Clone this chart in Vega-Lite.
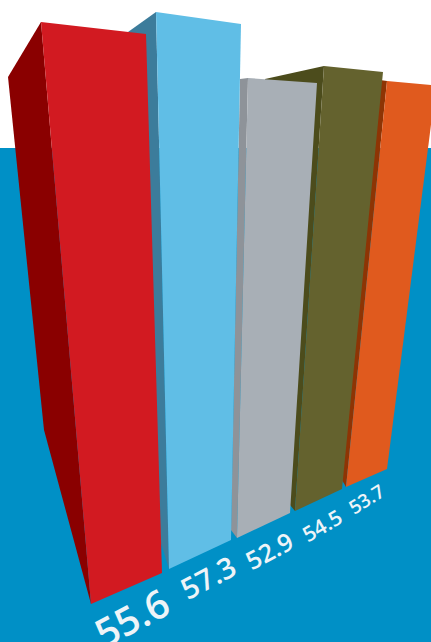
{"$schema":"https://vega.github.io/schema/vega-lite/v6.json","width":431,"height":642,"autosize":{"type":"none"},"padding":0,"background":"#ffffff","view":{"stroke":null},
"datasets":{"faces":[
{"face":"bg","order":1,"x":0,"y":148},{"face":"bg","order":2,"x":431,"y":148},{"face":"bg","order":3,"x":431,"y":642},{"face":"bg","order":4,"x":0,"y":642},
{"face":"orange side","order":1,"x":380,"y":80},{"face":"orange side","order":2,"x":387,"y":81},{"face":"orange side","order":3,"x":346,"y":487},{"face":"orange side","order":4,"x":342,"y":480},
{"face":"orange front","order":1,"x":387,"y":81},{"face":"orange front","order":2,"x":436,"y":85.5},{"face":"orange front","order":3,"x":387,"y":469},{"face":"orange front","order":4,"x":346,"y":487},
{"face":"olive side","order":1,"x":265,"y":79},{"face":"olive side","order":2,"x":324,"y":66},{"face":"olive side","order":3,"x":295,"y":511},{"face":"olive side","order":4,"x":290,"y":505},
{"face":"olive front","order":1,"x":324,"y":66},{"face":"olive front","order":2,"x":383,"y":72},{"face":"olive front","order":3,"x":342,"y":489},{"face":"olive front","order":4,"x":295,"y":511},
{"face":"gray side","order":1,"x":240,"y":79},{"face":"gray side","order":2,"x":248,"y":78},{"face":"gray side","order":3,"x":237,"y":538},{"face":"gray side","order":4,"x":231,"y":530},
{"face":"gray front","order":1,"x":248,"y":78},{"face":"gray front","order":2,"x":317,"y":83},{"face":"gray front","order":3,"x":290,"y":513},{"face":"gray front","order":4,"x":237,"y":538},
{"face":"blue side","order":1,"x":128,"y":32},{"face":"blue side","order":2,"x":156,"y":12},{"face":"blue side","order":3,"x":169,"y":569},{"face":"blue side","order":4,"x":160,"y":540},
{"face":"blue front","order":1,"x":156,"y":12},{"face":"blue front","order":2,"x":241,"y":24},{"face":"blue front","order":3,"x":231,"y":540},{"face":"blue front","order":4,"x":169,"y":569},
{"face":"red side","order":1,"x":8,"y":77},{"face":"red side","order":2,"x":41,"y":22},{"face":"red side","order":3,"x":91,"y":604},{"face":"red side","order":4,"x":44,"y":430},
{"face":"red front","order":1,"x":41,"y":22},{"face":"red front","order":2,"x":146,"y":34},{"face":"red front","order":3,"x":162,"y":573},{"face":"red front","order":4,"x":91,"y":604}
],
"labels":[{"label":"55.6","x":133,"y":620},{"label":"57.3","x":209,"y":579},{"label":"52.9","x":270,"y":552},{"label":"54.5","x":323,"y":527},{"label":"53.7","x":367,"y":500}]},
"encoding":{
"x":{"field":"x","type":"quantitative","scale":{"domain":[0,431],"nice":false},"axis":null},
"y":{"field":"y","type":"quantitative","scale":{"domain":[642,0],"nice":false},"axis":null}},
"layer":[
{"data":{"name":"faces"},"mark":{"type":"line","filled":true,"strokeWidth":0,"clip":true},
"encoding":{
"order":{"field":"order","type":"quantitative"},
"fill":{"field":"face","type":"nominal","legend":null,"scale":{"domain":["bg","orange side","orange front","olive side","olive front","gray side","gray front","blue side","blue front","red side","red front"],"range":["#0090C6","#8E3404","#E05A1E","#4C4C1C","#64622E","#8E9399","#A8AFB6","#3C7C9B","#60BEE6","#8A0000","#D21A21"]}}}},
{"data":{"name":"labels"},"transform":[{"filter":"datum.label=='55.6'"}],"mark":{"type":"text","font":"Open Sans","fontWeight":600,"fontSize":39,"angle":332,"color":"#EEF4F8","align":"center","baseline":"middle"},"encoding":{"text":{"field":"label"}}},
{"data":{"name":"labels"},"transform":[{"filter":"datum.label=='57.3'"}],"mark":{"type":"text","font":"Open Sans","fontWeight":600,"fontSize":29,"angle":332,"color":"#EEF4F8","align":"center","baseline":"middle"},"encoding":{"text":{"field":"label"}}},
{"data":{"name":"labels"},"transform":[{"filter":"datum.label=='52.9'"}],"mark":{"type":"text","font":"Open Sans","fontWeight":600,"fontSize":25,"angle":332,"color":"#EEF4F8","align":"center","baseline":"middle"},"encoding":{"text":{"field":"label"}}},
{"data":{"name":"labels"},"transform":[{"filter":"datum.label=='54.5'"}],"mark":{"type":"text","font":"Open Sans","fontWeight":600,"fontSize":21,"angle":330,"color":"#EEF4F8","align":"center","baseline":"middle"},"encoding":{"text":{"field":"label"}}},
{"data":{"name":"labels"},"transform":[{"filter":"datum.label=='53.7'"}],"mark":{"type":"text","font":"Open Sans","fontWeight":600,"fontSize":19,"angle":328,"color":"#EEF4F8","align":"center","baseline":"middle"},"encoding":{"text":{"field":"label"}}}
]}
